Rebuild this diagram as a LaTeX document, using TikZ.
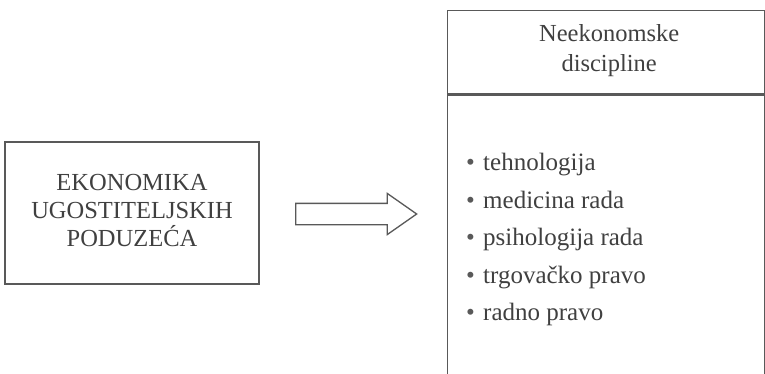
\documentclass[tikz,border=0pt]{standalone}
\usepackage{fontspec}
\setmainfont{Liberation Serif}
\usetikzlibrary{positioning, shapes.arrows}
\definecolor{ink}{gray}{0.25}
\definecolor{rule}{gray}{0.35}
\tikzset{
  box/.style={draw=rule, line width=1.3pt, text=ink, align=center, inner sep=0pt},
  bigtext/.style={font=\fontsize{24.5}{28}\selectfont}
}
\begin{document}
\begin{tikzpicture}[x=1pt, y=-1pt]
  \useasboundingbox (0,0) rectangle (765,374);
  \clip (0,0) rectangle (765,374);
    \node[box, bigtext, minimum width=254pt, minimum height=142pt] (ekon) at (132,213) {EKONOMIKA\\UGOSTITELJSKIH\\PODUZEĆA\rule[-5pt]{0pt}{0pt}};
    \node[single arrow, draw=rule, line width=1.3pt, inner xsep=0pt, inner ysep=10pt, minimum height=121pt, single arrow head extend=10pt, single arrow tip angle=70, anchor=tail] (arrow) at (295,214) {};
    \node[box, font=\fontsize{24.5}{30}\selectfont, minimum width=317pt, minimum height=83pt, anchor=north west] (neek) at (447,10) {\hspace*{6pt}Neekonomske\\\hspace*{6pt}discipline\rule[-9pt]{0pt}{0pt}};
    \node[box, minimum width=317pt, minimum height=320pt, anchor=north west] (disc) at (neek.south west) {};
    \node[text=ink, align=left, anchor=north west, inner sep=0pt, font=\fontsize{25}{37.5}\selectfont] (list) at (466,153) {{\color{rule}\textbullet}\hspace{2pt} tehnologija\\{\color{rule}\textbullet}\hspace{2pt} medicina rada\\{\color{rule}\textbullet}\hspace{2pt} psihologija rada\\{\color{rule}\textbullet}\hspace{2pt} trgovačko pravo\\{\color{rule}\textbullet}\hspace{2pt} radno pravo};
  \end{tikzpicture}
\end{document}
